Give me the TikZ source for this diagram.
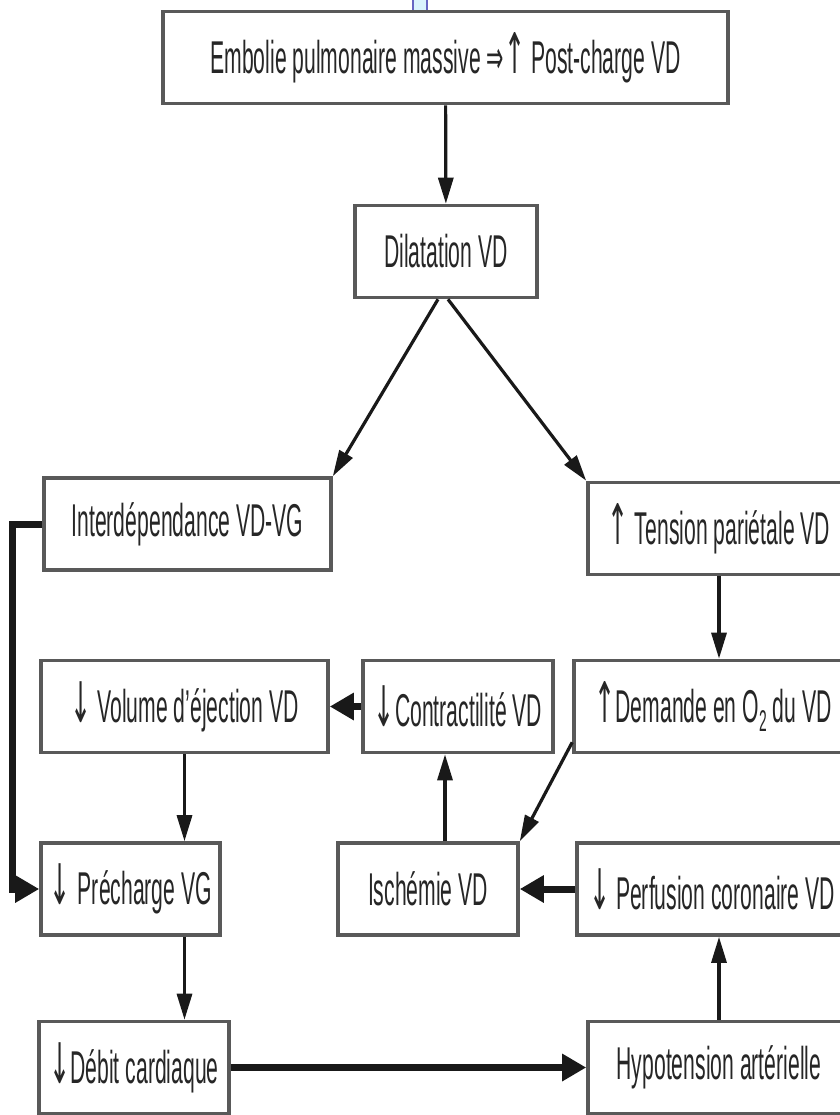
\documentclass[tikz,border=0pt]{standalone}
\usepackage{fontspec}
\setmainfont[FakeStretch=0.46]{Liberation Sans}
\newfontfamily\arrowfont[FakeStretch=0.45]{DejaVu Sans}
\newcommand\upar{{\arrowfont\fontsize{28}{28}\selectfont ↑}}
\newcommand\downar{{\arrowfont\fontsize{28}{28}\selectfont ↓}}
\newcommand\implar{{\arrowfont ⇒}}
\usetikzlibrary{arrows.meta,positioning}
\tikzset{causebox/.style={
    % The shape:
    rectangle,
    % The size:
    minimum height=46pt,
    inner sep=0pt,
    % The border:
    line width=1.8pt,
    draw=black!65,
    % Font
    font=\fontsize{23}{27}\selectfont,
    text=black!85,
    },
    flow/.style={
    line width=1.6pt,
    draw=black!90,
    -{Triangle[length=13pt,width=7.5pt]},
    },
    bigflow/.style={
    line width=3.5pt,
    draw=black!90,
    -{Triangle[length=12pt,width=13pt]},
    },
}

\begin{document}
\begin{tikzpicture}[x=0.5pt,y=-0.5pt]
    \useasboundingbox (0,0) rectangle (840,1115);
    \clip (0,0) rectangle (840,1115);
    \draw[blue!60!black!60, fill=cyan!15, line width=0.8pt] (413,-4) rectangle (427,12);

    \node (embol)  [causebox,minimum width=282.5pt] at (445.5,57.5) {Embolie pulmonaire massive \implar\upar\ Post-charge VD};
    \node (dilat)  [causebox,minimum width=91pt]    at (446,251.5)  {Dilatation VD};
    \node (inter)  [causebox,minimum width=143.5pt] at (187.5,524)  {Interdépendance VD-VG};
    \node (tension)[causebox,minimum width=131pt]   at (719,528.5)  {\upar\ Tension pariétale VD};
    \node (volume) [causebox,minimum width=143.5pt] at (184.5,706.5){\downar\ Volume d'éjection VD};
    \node (contr)  [causebox,minimum width=95pt]    at (458,706.5)  {\downar Contractilité VD};
    \node (demande)[causebox,minimum width=139pt]   at (713,706.5)  {\upar Demande en O\raisebox{-0.4ex}{\fontsize{15}{15}\selectfont 2} du VD};
    \node (prech)  [causebox,minimum width=89.5pt]  at (130.5,889)  {\downar\,Précharge VG};
    \node (ischem) [causebox,minimum width=90pt]    at (428,889)    {Ischémie VD};
    \node (perf)   [causebox,minimum width=135pt]   at (712,889)    {\downar\ Perfusion coronaire VD};
    \node (debit)  [causebox,minimum width=95pt]    at (134,1067.5) {\downar Débit cardiaque};
    \node (hypo)   [causebox,minimum width=131pt]   at (719,1067.5) {Hypotension artérielle};

    \path (embol) edge[flow] (dilat);
    \path ([xshift=-4pt]dilat.south) edge[flow] (inter.north east);
    \path ([xshift=1pt]dilat.south) edge[flow] (tension.north west);
    \draw[bigflow] (inter.west) -- ++(-30,0) |- (prech.west);
    \path (tension.south) edge[flow] (tension.south |- demande.north);
    \path (contr) edge[bigflow] (volume);
    \path (volume.south) edge[flow] (volume.south |- prech.north);
    \path ([yshift=6pt]demande.south west) edge[flow] (ischem.north east);
    \path ([xshift=8.5pt]ischem.north) edge[flow] ([xshift=-6.5pt]contr.south);
    \path (perf) edge[bigflow] (ischem);
    \path (prech.south -| volume.south) edge[flow] (debit.north -| volume.south);
    \path (debit) edge[bigflow] (hypo);
    \path (hypo.north) edge[flow] (hypo.north |- perf.south);
\end{tikzpicture}
\end{document}
